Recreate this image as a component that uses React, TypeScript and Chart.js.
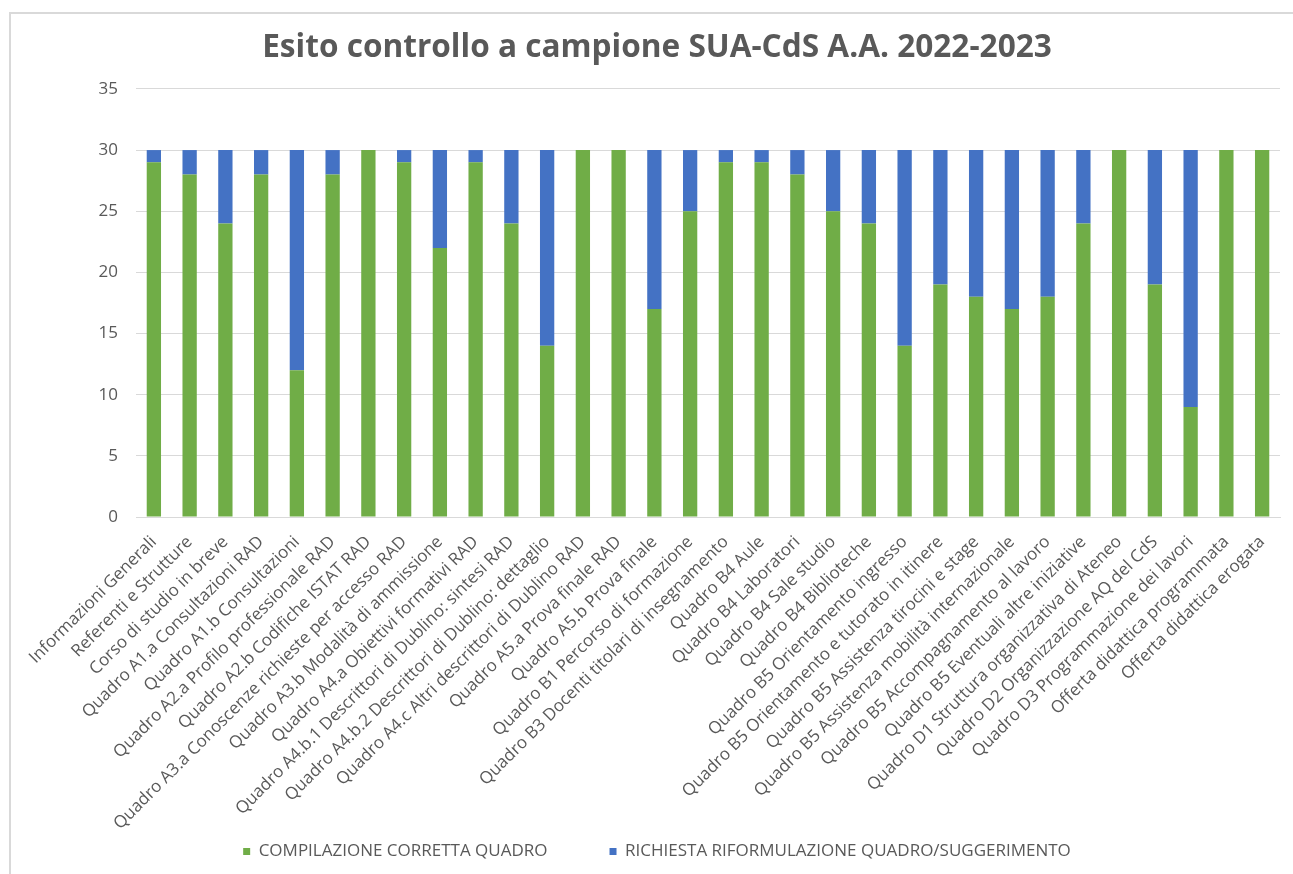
import React, { useEffect, useRef } from "react";
import { Chart, registerables } from "chart.js";

Chart.register(...registerables);

const categories: string[] = [
  "Informazioni Generali",
  "Referenti e Strutture",
  "Corso di studio in breve",
  "Quadro A1.a Consultazioni RAD",
  "Quadro A1.b Consultazioni",
  "Quadro A2.a Profilo professionale RAD",
  "Quadro A2.b Codifiche ISTAT RAD",
  "Quadro A3.a Conoscenze richieste per accesso RAD",
  "Quadro A3.b Modalità di ammissione",
  "Quadro A4.a Obiettivi formativi RAD",
  "Quadro A4.b.1 Descrittori di Dublino: sintesi RAD",
  "Quadro A4.b.2 Descrittori di Dublino: dettaglio",
  "Quadro A4.c Altri descrittori di Dublino RAD",
  "Quadro A5.a Prova finale RAD",
  "Quadro A5.b Prova finale",
  "Quadro B1 Percorso di formazione",
  "Quadro B3 Docenti titolari di insegnamento",
  "Quadro B4 Aule",
  "Quadro B4 Laboratori",
  "Quadro B4 Sale studio",
  "Quadro B4 Biblioteche",
  "Quadro B5 Orientamento ingresso",
  "Quadro B5 Orientamento e tutorato in itinere",
  "Quadro B5 Assistenza tirocini e stage",
  "Quadro B5 Assistenza mobilità internazionale",
  "Quadro B5 Accompagnamento al lavoro",
  "Quadro B5 Eventuali altre iniziative",
  "Quadro D1 Struttura organizzativa di Ateneo",
  "Quadro D2 Organizzazione AQ del CdS",
  "Quadro D3 Programmazione dei lavori",
  "Offerta didattica programmata",
  "Offerta didattica erogata",
];

const corretta: number[] = [
  29, 28, 24, 28, 12, 28, 30, 29, 22, 29, 24, 14, 30, 30, 17, 25,
  29, 29, 28, 25, 24, 14, 19, 18, 17, 18, 24, 30, 19, 9, 30, 30,
];

const riformulazione: number[] = [
  1, 2, 6, 2, 18, 2, 0, 1, 8, 1, 6, 16, 0, 0, 13, 5,
  1, 1, 2, 5, 6, 16, 11, 12, 13, 12, 6, 0, 11, 21, 0, 0,
];

const yTicks: number[] = [0, 5, 10, 15, 20, 25, 30, 35];

const seriesNames: string[] = [
  "COMPILAZIONE CORRETTA QUADRO",
  "RICHIESTA RIFORMULAZIONE QUADRO/SUGGERIMENTO",
];

const titleText = "Esito controllo a campione SUA-CdS A.A. 2022-2023";

export default function App() {
  const ref = useRef<HTMLCanvasElement | null>(null);

  useEffect(() => {
    if (!ref.current) return;
    const textColor = "#595959";
    const font = "'Open Sans', sans-serif";
    const chart = new Chart(ref.current, {
      type: "bar",
      data: {
        labels: categories,
        datasets: [
          {
            label: seriesNames[0],
            data: corretta,
            backgroundColor: "#70AD47",
            barPercentage: 0.4,
            categoryPercentage: 1,
          },
          {
            label: seriesNames[1],
            data: riformulazione,
            backgroundColor: "#4472C4",
            barPercentage: 0.4,
            categoryPercentage: 1,
          },
        ],
      },
      options: {
        responsive: false,
        animation: false,
        maintainAspectRatio: false,
        layout: { padding: { left: 34, right: 13, top: 0, bottom: 4 } },
        plugins: {
          title: {
            display: true,
            text: titleText,
            color: textColor,
            font: { family: font, size: 31.6, weight: "bold" },
            padding: { top: 29, bottom: 22 },
          },
          legend: {
            position: "bottom",
            labels: {
              color: textColor,
              font: { family: font, size: 17 },
              boxWidth: 7,
              boxHeight: 7,
              padding: 62,
            },
          },
          tooltip: { enabled: false },
        },
        scales: {
          x: {
            stacked: true,
            grid: { display: false, drawTicks: false },
            border: { display: true, color: "#D9D9D9" },
            ticks: {
              color: textColor,
              font: { family: font, size: 17 },
              minRotation: 45,
              maxRotation: 45,
              autoSkip: false,
              padding: 15,
            },
            afterFit: (scale: any) => {
              scale.height = 264;
              scale._computeLabelArea = () => undefined;
            },
          },
          y: {
            stacked: true,
            min: 0,
            max: 35,
            afterBuildTicks: (scale: any) => {
              scale.ticks = yTicks.map((v) => ({ value: v }));
            },
            grid: { color: "#D9D9D9", drawTicks: false },
            border: { display: false },
            ticks: {
              color: textColor,
              font: { family: font, size: 17 },
              padding: 18,
            },
            afterFit: (scale: any) => {
              scale.width = 102;
            },
          },
        },
      },
    });
    return () => chart.destroy();
  }, []);

  return (
    <div
      style={{
        position: "absolute",
        left: 0,
        top: 0,
        width: 1293,
        height: 874,
        overflow: "hidden",
        background: "#fff",
      }}
    >
      <div
        style={{
          position: "absolute",
          left: 9,
          top: 12,
          width: 1300,
          height: 880,
          borderLeft: "2px solid #D9D9D9",
          borderTop: "2px solid #D9D9D9",
          boxSizing: "border-box",
        }}
      />
      <canvas ref={ref} width={1293} height={874} style={{ position: "absolute", left: 0, top: 0 }} />
    </div>
  );
}
